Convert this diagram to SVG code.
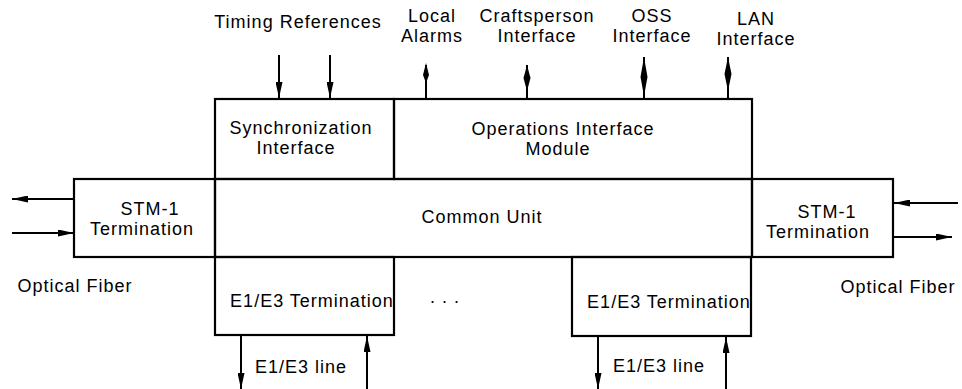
<svg xmlns="http://www.w3.org/2000/svg" width="962" height="389" viewBox="0 0 962 389">
  <style>
    .box { fill: none; stroke: #000; stroke-width: 2.2; }
    .wire { fill: none; stroke: #000; stroke-width: 2; }
    .head { fill: #000; stroke: none; }
    text { font-family: "Liberation Sans", Arial, Helvetica, sans-serif; font-size: 18px; letter-spacing: 1px; fill: #000; text-anchor: middle; }
  </style>
  <defs>
    <marker id="arrow" viewBox="0 0 16 7" refX="16" refY="3.5" markerWidth="16" markerHeight="7" markerUnits="userSpaceOnUse" orient="auto">
      <path class="head" d="M0,0 L16,3.5 L0,7 z"/>
    </marker>
  </defs>
  <rect width="962" height="389" fill="#fff"/>

  <!-- external labels -->
  <g id="labels">
    <text x="298" y="28">Timing References</text>
    <text x="432" y="22">Local</text>
    <text x="432" y="42">Alarms</text>
    <text x="537" y="22">Craftsperson</text>
    <text x="537" y="42">Interface</text>
    <text x="652" y="22">OSS</text>
    <text x="652" y="42">Interface</text>
    <text x="756" y="25">LAN</text>
    <text x="756" y="45">Interface</text>
    <text x="75" y="292">Optical Fiber</text>
    <text x="898" y="293">Optical Fiber</text>
    <text x="445" y="303">. . .</text>
    <text x="301" y="373">E1/E3 line</text>
    <text x="659" y="372">E1/E3 line</text>
  </g>

  <g id="sync">
    <rect class="box" x="215" y="99" width="179" height="80"/>
    <text x="301" y="134">Synchronization</text>
    <text x="296" y="154">Interface</text>
  </g>
  <g id="ops">
    <rect class="box" x="394" y="99" width="358" height="80"/>
    <text x="563" y="135">Operations Interface</text>
    <text x="558" y="155">Module</text>
  </g>
  <g id="stm1-left">
    <rect class="box" x="74" y="179" width="141" height="78"/>
    <text x="150" y="215">STM-1</text>
    <text x="142" y="235">Termination</text>
  </g>
  <g id="common">
    <rect class="box" x="215" y="179" width="537" height="78"/>
    <text x="482" y="223">Common Unit</text>
  </g>
  <g id="stm1-right">
    <rect class="box" x="752" y="179" width="141" height="78"/>
    <text x="827" y="218">STM-1</text>
    <text x="818" y="238">Termination</text>
  </g>
  <g id="e1e3-left">
    <rect class="box" x="215" y="257" width="179" height="78"/>
    <text x="312" y="307">E1/E3 Termination</text>
  </g>
  <g id="e1e3-right">
    <rect class="box" x="572" y="257" width="179" height="79"/>
    <text x="669" y="308">E1/E3 Termination</text>
  </g>

  <g id="connectors">
    <!-- timing inputs -->
    <line class="wire" x1="279" y1="55" x2="279" y2="98" marker-end="url(#arrow)"/>
    <line class="wire" x1="330" y1="55" x2="330" y2="98" marker-end="url(#arrow)"/>
    <!-- management interfaces (bidirectional) -->
    <line class="wire" x1="426" y1="65" x2="426" y2="99"/>
    <path class="head" d="M426,63 L429,75 L426,83 L423,75 z"/>
    <line class="wire" x1="527" y1="65" x2="527" y2="99"/>
    <path class="head" d="M527,65 L530.5,78 L527,91 L523.5,78 z"/>
    <line class="wire" x1="644" y1="57" x2="644" y2="99"/>
    <path class="head" d="M644,57 L647.5,77 L644,96 L640.5,77 z"/>
    <line class="wire" x1="728" y1="57" x2="728" y2="99"/>
    <path class="head" d="M728,57 L731.5,74 L728,91 L724.5,74 z"/>
    <!-- optical fibre, left -->
    <line class="wire" x1="74" y1="199" x2="12" y2="199" marker-end="url(#arrow)"/>
    <line class="wire" x1="12" y1="233" x2="74" y2="233" marker-end="url(#arrow)"/>
    <!-- optical fibre, right -->
    <line class="wire" x1="958" y1="203" x2="894" y2="203" marker-end="url(#arrow)"/>
    <line class="wire" x1="893" y1="237" x2="952" y2="237" marker-end="url(#arrow)"/>
    <!-- E1/E3 lines -->
    <line class="wire" x1="241" y1="335" x2="241" y2="389" marker-end="url(#arrow)"/>
    <line class="wire" x1="367" y1="389" x2="367" y2="336" marker-end="url(#arrow)"/>
    <line class="wire" x1="598" y1="336" x2="598" y2="389" marker-end="url(#arrow)"/>
    <line class="wire" x1="726" y1="389" x2="726" y2="337" marker-end="url(#arrow)"/>
  </g>
</svg>
